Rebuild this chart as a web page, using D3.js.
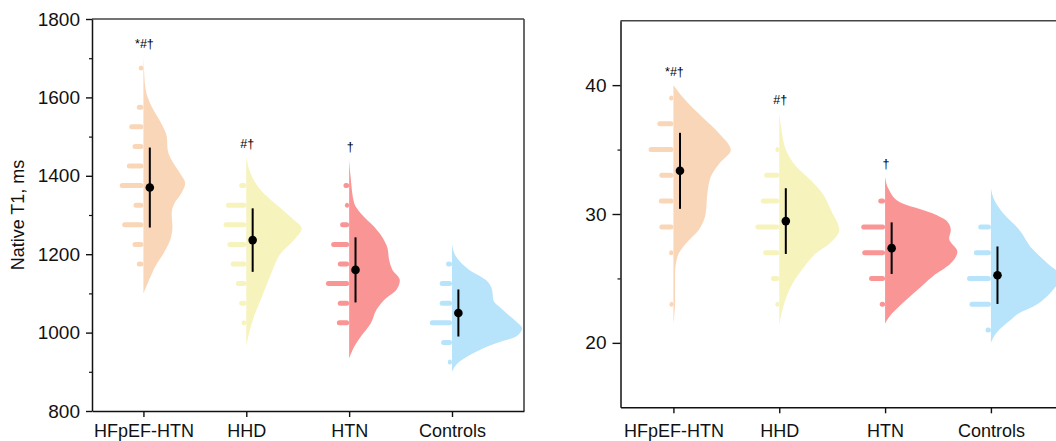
<!DOCTYPE html>
<html>
<head>
<meta charset="utf-8">
<script src="https://cdn.jsdelivr.net/npm/d3@7"></script>
<style>
  body { margin: 0; background: #fff; }
  svg { display: block; font-family: "Liberation Sans", Arial, Helvetica, sans-serif; }
</style>
</head>
<body>
<svg id="chart" width="1056" height="441"></svg>
<script>
var groups = ['HFpEF-HTN', 'HHD', 'HTN', 'Controls'];
var fills = ['#fad6b8', '#f6f3bd', '#f99594', '#b7e3fb'];
var sigMarks = ['*#†', '#†', '†', ''];

// native T1 (ms) - left panel
var t1Ticks = [800, 1000, 1200, 1400, 1600, 1800];
var t1Minor = [900, 1100, 1300, 1500, 1700];
var t1Mean = [1370, 1236, 1160, 1050];
var t1Sd = [102, 81, 83, 60];
// density outline: [value, half width in category units]
var t1Density = [
  [[1100,0],[1134,.055],[1168,.114],[1202,.195],[1236,.26],[1270,.282],[1304,.275],[1330,.302],[1355,.367],[1381,.406],[1406,.357],[1432,.292],[1466,.236],[1500,.227],[1534,.172],[1576,.081],[1619,.022],[1660,.008],[1704,0]],
  [[968,0],[998,.026],[1041,.075],[1083,.139],[1126,.204],[1168,.269],[1202,.334],[1236,.464],[1266,.538],[1287,.464],[1321,.318],[1364,.139],[1406,.042],[1449,0]],
  [[934,0],[964,.049],[990,.114],[1024,.211],[1058,.266],[1083,.34],[1109,.46],[1134,.493],[1160,.421],[1185,.389],[1215,.373],[1245,.318],[1270,.243],[1304,.114],[1330,.049],[1389,.017],[1440,0]],
  [[900,0],[922,.055],[947,.201],[973,.428],[990,.623],[1011,.681],[1028,.623],[1058,.493],[1083,.402],[1109,.389],[1134,.331],[1160,.168],[1194,.039],[1226,0]]
];
var t1Bins = [
  [1175, 1225, 1275, 1325, 1375, 1425, 1475, 1525, 1575, 1675],
  [1025, 1075, 1125, 1175, 1225, 1275, 1325, 1375],
  [1025, 1075, 1125, 1175, 1225, 1275, 1325, 1375],
  [925, 975, 1025, 1075, 1125, 1175]
];
var t1Counts = [
  [1.4, 2.3, 4.5, 2.1, 5, 3.5, 2.3, 3, 1.4, 1],
  [1, 1.5, 2.2, 3.3, 4, 4.8, 4.3, 1.5],
  [2.6, 2.4, 4.9, 2.4, 3.8, 1.9, 0.9, 1.2],
  [0.9, 2.3, 4.7, 2.6, 2.6, 1.25]
];

// right panel (%)
var ecvTicks = [20, 30, 40];
var ecvMinor = [25, 35];
var ecvMean = [33.35, 29.45, 27.35, 25.25];
var ecvSd = [2.95, 2.55, 2.0, 2.23];
var ecvDensity = [
  [[21.5,0],[23.3,.016],[25.4,.016],[26.7,.038],[27.7,.116],[28.8,.243],[30.05,.305],[31.6,.321],[32.9,.353],[33.9,.432],[34.96,.542],[36.25,.432],[37.5,.274],[38.8,.116],[40,0]],
  [[21.4,0],[23.3,.057],[24.6,.126],[25.9,.236],[26.95,.347],[27.7,.473],[28.76,.567],[30.3,.489],[31.6,.409],[32.6,.3],[33.7,.158],[34.96,.063],[36.25,.026],[37.85,0]],
  [[21.5,0],[22,.038],[23.07,.164],[24.1,.305],[25.14,.447],[26.17,.621],[27.07,.683],[28.1,.605],[28.76,.621],[29.4,.589],[30.05,.447],[30.96,.132],[31.86,.038],[32.9,0]],
  [[20,0],[20.5,.028],[21,.076],[21.8,.189],[22.3,.265],[22.8,.397],[23.6,.529],[24.3,.605],[25.0,.68],[26.2,.53],[27.3,.39],[28.8,.265],[30.05,.116],[31.1,.031],[32,0]]
];
var ecvBins = [
  [23, 27, 29, 31, 33, 35, 37, 39],
  [23, 25, 27, 29, 31, 33, 35],
  [23, 25, 27, 29, 31],
  [21, 23, 25, 27, 29]
];
var ecvCounts = [
  [0.8, 0.9, 2.9, 3, 2.9, 5.1, 3.3, 0.9],
  [0.8, 1.7, 3.3, 4.9, 3.8, 3.1, 0.8],
  [1.1, 3.3, 4.7, 4.9, 1.4],
  [1.1, 4.4, 4.9, 3.5, 2.6]
];

var svg = d3.select('#chart');

var panels = [
  { xr: [92, 524], yr: [411, 19], dom: [800, 1800], ticks: t1Ticks, minor: t1Minor, tick: 6, xpad: 7.5,
    mean: t1Mean, sd: t1Sd, dens: t1Density, bins: t1Bins, counts: t1Counts, title: 'Native T1, ms' },
  { xr: [620.5, 1065], yr: [407.3, 20.7], dom: [15, 45], ticks: ecvTicks, minor: ecvMinor, tick: 8, xpad: 11,
    mean: ecvMean, sd: ecvSd, dens: ecvDensity, bins: ecvBins, counts: ecvCounts, title: null }
];

var countUnit = 0.046;  // category units per histogram count
var binHeight = 5;

panels.forEach(function (p) {
  var x = d3.scaleLinear().domain([-0.5, 3.7]).range(p.xr);
  var y = d3.scaleLinear().domain(p.dom).range(p.yr);
  var g = svg.append('g');

  groups.forEach(function (name, i) {
    // half violin on the right of the category line
    var area = d3.area()
      .y(function (d) { return y(d[0]); })
      .x0(x(i))
      .x1(function (d) { return x(i + d[1]); })
      .curve(d3.curveMonotoneY);
    g.append('path')
      .datum(p.dens[i])
      .attr('d', area)
      .attr('fill', fills[i]);

    // histogram bars to the left
    g.selectAll('.bin' + i)
      .data(p.bins[i].map(function (b, j) { return { v: b, c: p.counts[i][j] }; }))
      .enter().append('rect')
      .attr('x', function (d) { return x(i - d.c * countUnit); })
      .attr('width', function (d) { return x(i) - x(i - d.c * countUnit); })
      .attr('y', function (d) { return y(d.v) - binHeight / 2; })
      .attr('height', binHeight)
      .attr('rx', binHeight / 2)
      .attr('fill', fills[i]);

    // mean +- sd
    var mx = x(i + 0.062);
    g.append('line')
      .attr('x1', mx).attr('x2', mx)
      .attr('y1', y(p.mean[i] - p.sd[i]))
      .attr('y2', y(p.mean[i] + p.sd[i]))
      .attr('stroke', '#000').attr('stroke-width', 2);
    g.append('circle')
      .attr('cx', mx).attr('cy', y(p.mean[i]))
      .attr('r', 4.3).attr('fill', '#000');

    if (sigMarks[i]) {
      var top = d3.max(p.dens[i], function (d) { return d[0]; });
      g.append('text')
        .attr('x', x(i) + 1)
        .attr('y', y(top) - 9)
        .attr('text-anchor', 'middle')
        .attr('font-size', 12.5)
        .attr('fill', '#000')
        .text(sigMarks[i]);
    }
  });

  // frame
  g.append('line').attr('x1', p.xr[0]).attr('x2', p.xr[1]).attr('y1', p.yr[1]).attr('y2', p.yr[1])
    .attr('stroke', '#444').attr('stroke-width', 1.6);
  g.append('line').attr('x1', p.xr[1]).attr('x2', p.xr[1]).attr('y1', p.yr[1]).attr('y2', p.yr[0])
    .attr('stroke', '#444').attr('stroke-width', 1.6);

  // y axis
  var ya = g.append('g').attr('transform', 'translate(' + p.xr[0] + ',0)')
    .call(d3.axisLeft(y).tickValues(p.ticks).tickFormat(d3.format('d'))
      .tickSize(p.tick).tickSizeOuter(0).tickPadding(6));
  ya.attr('font-family', null);
  ya.selectAll('text').attr('font-size', 19).attr('fill', '#111');
  ya.selectAll('line').attr('stroke', '#111').attr('stroke-width', 1.4);
  ya.select('.domain').attr('stroke', '#111').attr('stroke-width', 1.5);

  var ym = g.append('g').attr('transform', 'translate(' + p.xr[0] + ',0)')
    .call(d3.axisLeft(y).tickValues(p.minor).tickSize(3).tickFormat(''));
  ym.select('.domain').remove();
  ym.selectAll('line').attr('stroke', '#111').attr('stroke-width', 1.2);

  // x axis
  var xa = g.append('g').attr('transform', 'translate(0,' + p.yr[0] + ')')
    .call(d3.axisBottom(x).tickValues([0, 1, 2, 3]).tickFormat(function (i) { return groups[i]; })
      .tickSize(6).tickSizeOuter(0).tickPadding(p.xpad));
  xa.attr('font-family', null);
  xa.selectAll('text').attr('font-size', 18).attr('fill', '#111');
  xa.selectAll('line').attr('stroke', '#111').attr('stroke-width', 1.4);
  xa.select('.domain').attr('stroke', '#111').attr('stroke-width', 1.5);

  if (p.title) {
    svg.append('text')
      .attr('transform', 'translate(24,' + ((p.yr[0] + p.yr[1]) / 2) + ') rotate(-90)')
      .attr('text-anchor', 'middle')
      .attr('font-size', 18)
      .attr('fill', '#111')
      .text(p.title);
  }
});
</script>
</body>
</html>
